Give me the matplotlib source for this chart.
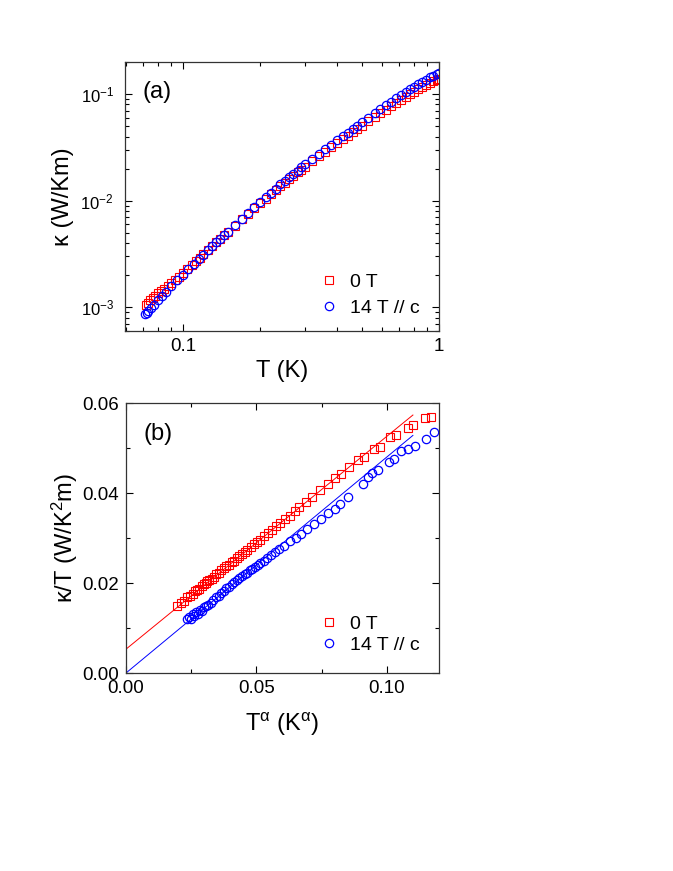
import numpy as np
import matplotlib
matplotlib.use("Agg")
import matplotlib.pyplot as plt
from matplotlib.ticker import FixedLocator, MultipleLocator, FormatStrFormatter, LogLocator, NullFormatter

plt.rcParams['font.family'] = ['Liberation Sans', 'DejaVu Sans']
plt.rcParams['mathtext.fontset'] = 'custom'
plt.rcParams['mathtext.rm'] = 'Liberation Sans'
plt.rcParams['mathtext.it'] = 'Liberation Sans'
plt.rcParams['mathtext.bf'] = 'Liberation Sans:bold'

# ---- panel (a): kappa vs T, log-log ----
T_0T = [0.0715, 0.073, 0.0745, 0.076, 0.078, 0.080, 0.082, 0.084, 0.087, 0.090,
        0.093, 0.096, 0.100, 0.104, 0.108, 0.112, 0.116, 0.120, 0.125, 0.130,
        0.135, 0.140, 0.145, 0.150, 0.160, 0.170, 0.180, 0.190, 0.200, 0.210,
        0.220, 0.230, 0.240, 0.250, 0.260, 0.270, 0.280, 0.290, 0.300, 0.320,
        0.340, 0.360, 0.380, 0.400, 0.420, 0.440, 0.460, 0.480, 0.500, 0.530,
        0.560, 0.590, 0.620, 0.650, 0.680, 0.710, 0.740, 0.770, 0.800, 0.830,
        0.860, 0.890, 0.920, 0.950, 0.980, 1.000]
k_0T = [1.05e-3, 1.10e-3, 1.17e-3, 1.22e-3, 1.28e-3, 1.35e-3, 1.43e-3, 1.49e-3, 1.58e-3, 1.68e-3,
        1.80e-3, 1.92e-3, 2.08e-3, 2.28e-3, 2.48e-3, 2.70e-3, 2.92e-3, 3.15e-3, 3.45e-3, 3.76e-3,
        4.08e-3, 4.40e-3, 4.74e-3, 5.10e-3, 5.85e-3, 6.68e-3, 7.55e-3, 8.48e-3, 9.45e-3, 1.045e-2,
        1.15e-2, 1.26e-2, 1.37e-2, 1.48e-2, 1.60e-2, 1.72e-2, 1.84e-2, 1.96e-2, 2.08e-2, 2.34e-2,
        2.61e-2, 2.89e-2, 3.18e-2, 3.47e-2, 3.77e-2, 4.08e-2, 4.40e-2, 4.72e-2, 5.05e-2, 5.55e-2,
        6.07e-2, 6.60e-2, 7.15e-2, 7.70e-2, 8.27e-2, 8.85e-2, 9.40e-2, 9.95e-2, 0.105, 0.1105,
        0.116, 0.1215, 0.127, 0.132, 0.137, 0.140]

T_14T = [0.071, 0.072, 0.073, 0.075, 0.077, 0.080, 0.083, 0.086, 0.090, 0.095,
         0.100, 0.105, 0.110, 0.115, 0.120, 0.125, 0.130, 0.135, 0.140, 0.145,
         0.150, 0.160, 0.170, 0.180, 0.190, 0.200, 0.210, 0.220, 0.230, 0.240,
         0.250, 0.260, 0.270, 0.280, 0.290, 0.300, 0.320, 0.340, 0.360, 0.380,
         0.400, 0.420, 0.440, 0.460, 0.480, 0.500, 0.530, 0.560, 0.590, 0.620,
         0.650, 0.680, 0.710, 0.740, 0.770, 0.800, 0.830, 0.860, 0.890, 0.920,
         0.950, 0.980, 1.000]
k_14T = [8.7e-4, 8.8e-4, 9.2e-4, 9.8e-4, 1.05e-3, 1.16e-3, 1.28e-3, 1.40e-3, 1.57e-3, 1.80e-3,
         2.03e-3, 2.28e-3, 2.55e-3, 2.83e-3, 3.12e-3, 3.42e-3, 3.74e-3, 4.07e-3, 4.41e-3, 4.77e-3,
         5.14e-3, 5.93e-3, 6.78e-3, 7.70e-3, 8.67e-3, 9.70e-3, 1.075e-2, 1.19e-2, 1.30e-2, 1.42e-2,
         1.54e-2, 1.66e-2, 1.79e-2, 1.92e-2, 2.05e-2, 2.19e-2, 2.46e-2, 2.75e-2, 3.05e-2, 3.36e-2,
         3.68e-2, 4.01e-2, 4.35e-2, 4.70e-2, 5.06e-2, 5.43e-2, 6.00e-2, 6.60e-2, 7.20e-2, 7.85e-2,
         8.50e-2, 9.15e-2, 9.80e-2, 0.1045, 0.111, 0.1175, 0.124, 0.1305, 0.137, 0.1435,
         0.149, 0.154, 0.157]

# ---- panel (b): kappa/T vs T^alpha ----
Ta_0T = [0.0195, 0.0210, 0.0222, 0.0235, 0.0245, 0.0258, 0.0265, 0.0272, 0.0280, 0.0290,
         0.0298, 0.0305, 0.0312, 0.0320, 0.0328, 0.0336, 0.0345, 0.0355, 0.0365, 0.0375,
         0.0385, 0.0395, 0.0405, 0.0415, 0.0425, 0.0435, 0.0445, 0.0455, 0.0465, 0.0478,
         0.0490, 0.0503, 0.0515, 0.0530, 0.0545, 0.0560, 0.0575, 0.0592, 0.0610, 0.0628,
         0.0648, 0.0665, 0.0690, 0.0712, 0.0742, 0.0775, 0.0800, 0.0825, 0.0855, 0.0890,
         0.0912, 0.0950, 0.0972, 0.1012, 0.1035, 0.1082, 0.1102, 0.1145, 0.1170]
kT_0T = [0.0148, 0.0155, 0.0160, 0.0168, 0.0172, 0.0176, 0.0182, 0.0184, 0.0187, 0.0193,
         0.0197, 0.0200, 0.0205, 0.0207, 0.0210, 0.0213, 0.0219, 0.0222, 0.0228, 0.0233,
         0.0238, 0.0241, 0.0246, 0.0250, 0.0255, 0.0259, 0.0264, 0.0270, 0.0273, 0.0280,
         0.0286, 0.0292, 0.0296, 0.0304, 0.0311, 0.0318, 0.0326, 0.0333, 0.0342, 0.0350,
         0.0360, 0.0368, 0.0381, 0.0392, 0.0407, 0.0421, 0.0433, 0.0443, 0.0457, 0.0473,
         0.0480, 0.0497, 0.0503, 0.0524, 0.0528, 0.0545, 0.0551, 0.0567, 0.0570]

Ta_14T = [0.0235, 0.0240, 0.0248, 0.0255, 0.0262, 0.0268, 0.0275, 0.0282, 0.0290, 0.0298,
          0.0306, 0.0315, 0.0325, 0.0335, 0.0345, 0.0355, 0.0365, 0.0375, 0.0385, 0.0395,
          0.0405, 0.0415, 0.0425, 0.0435, 0.0445, 0.0455, 0.0465, 0.0475, 0.0485, 0.0495,
          0.0505, 0.0515, 0.0528, 0.0542, 0.0556, 0.0570, 0.0585, 0.0605, 0.0628, 0.0652,
          0.0672, 0.0695, 0.0722, 0.0748, 0.0775, 0.0800, 0.0820, 0.0850, 0.0907, 0.0926,
          0.0945, 0.0967, 0.1009, 0.1028, 0.1053, 0.1080, 0.1108, 0.1150, 0.1182]
kT_14T = [0.0119, 0.0125, 0.0121, 0.0131, 0.0126, 0.0136, 0.0131, 0.0141, 0.0138, 0.0146,
          0.0148, 0.0151, 0.0155, 0.0163, 0.0168, 0.0172, 0.0178, 0.0183, 0.0189, 0.0192,
          0.0197, 0.0203, 0.0207, 0.0212, 0.0215, 0.0220, 0.0223, 0.0228, 0.0232, 0.0236,
          0.0240, 0.0245, 0.0250, 0.0256, 0.0262, 0.0268, 0.0275, 0.0282, 0.0293, 0.0300,
          0.0310, 0.0320, 0.0331, 0.0343, 0.0355, 0.0364, 0.0376, 0.0392, 0.0419, 0.0435,
          0.0445, 0.0451, 0.0468, 0.0475, 0.0493, 0.0497, 0.0505, 0.0520, 0.0535]

# linear fits (intercept, slope) and fit range in T^alpha
fit_0T = (0.0053, 0.473)
fit_14T = (0.0, 0.48)
fit_range = (0.0, 0.11)

RED = '#ff0000'
BLUE = '#0000ff'


def style_axes(ax):
    ax.tick_params(which='both', direction='in', top=True, right=True, labelsize=13.5, pad=5)
    ax.tick_params(which='major', length=5, width=0.8)
    ax.tick_params(which='minor', length=3, width=0.8)
    for s in ax.spines.values():
        s.set_linewidth(0.9)
        s.set_color('#333333')


fig = plt.figure(figsize=(6.73, 8.71), dpi=100)

# panel (a)
ax1 = fig.add_axes([0.1857, 0.6200, 0.4666, 0.3088])
ax1.plot(T_0T, k_0T, 's', mfc='none', mec=RED, ms=5.2, mew=0.8, label='0 T')
ax1.plot(T_14T, k_14T, 'o', mfc='none', mec=BLUE, ms=6, mew=0.9, label='14 T // c')
ax1.set_xscale('log')
ax1.set_yscale('log')
ax1.set_xlim(0.0593, 1.0)
ax1.set_ylim(6e-4, 0.2)
ax1.xaxis.set_major_locator(FixedLocator([0.1, 1.0]))
ax1.set_xticklabels(['0.1', '1'])
ax1.xaxis.set_minor_locator(LogLocator(base=10, subs=np.arange(2, 10)))
ax1.xaxis.set_minor_formatter(NullFormatter())
ax1.yaxis.set_minor_locator(LogLocator(base=10, subs=np.arange(2, 10)))
ax1.yaxis.set_minor_formatter(NullFormatter())
style_axes(ax1)
ax1.tick_params(axis='y', labelsize=12, pad=8)
ax1.set_xlabel('T (K)', fontsize=17, labelpad=4)
ax1.set_ylabel('κ (W/Km)', fontsize=17, labelpad=5)
ax1.text(0.057, 0.89, '(a)', transform=ax1.transAxes, fontsize=17, va='center')
ax1.legend(loc='lower right', bbox_to_anchor=(1.0, -0.02), frameon=False, fontsize=14,
           handlelength=1.0, handletextpad=0.6, labelspacing=0.45, borderaxespad=0.6)

# panel (b)
ax2 = fig.add_axes([0.1872, 0.2273, 0.4651, 0.3100])
ax2.plot(Ta_0T, kT_0T, 's', mfc='none', mec=RED, ms=5.2, mew=0.8, label='0 T')
ax2.plot(Ta_14T, kT_14T, 'o', mfc='none', mec=BLUE, ms=6, mew=0.9, label='14 T // c')
xf = np.array(fit_range)
ax2.plot(xf, fit_0T[0] + fit_0T[1] * xf, '-', color=RED, lw=0.7)
ax2.plot(xf, fit_14T[0] + fit_14T[1] * xf, '-', color=BLUE, lw=0.7)
ax2.set_xlim(0.0, 0.12)
ax2.set_ylim(0.0, 0.06)
ax2.xaxis.set_major_locator(MultipleLocator(0.05))
ax2.xaxis.set_minor_locator(MultipleLocator(0.025))
ax2.xaxis.set_major_formatter(FormatStrFormatter('%.2f'))
ax2.yaxis.set_major_locator(MultipleLocator(0.02))
ax2.yaxis.set_minor_locator(MultipleLocator(0.01))
ax2.yaxis.set_major_formatter(FormatStrFormatter('%.2f'))
style_axes(ax2)
ax2.set_xlabel('T$^{α}$ (K$^{α}$)', fontsize=17, labelpad=10)
ax2.set_ylabel('κ/T (W/K$^{2}$m)', fontsize=17, labelpad=2)
ax2.text(0.057, 0.885, '(b)', transform=ax2.transAxes, fontsize=17, va='center')
ax2.legend(loc='lower right', frameon=False, fontsize=14, handlelength=1.0,
           handletextpad=0.6, labelspacing=0.15, borderaxespad=0.6)

fig.savefig('out.png', dpi=100)
